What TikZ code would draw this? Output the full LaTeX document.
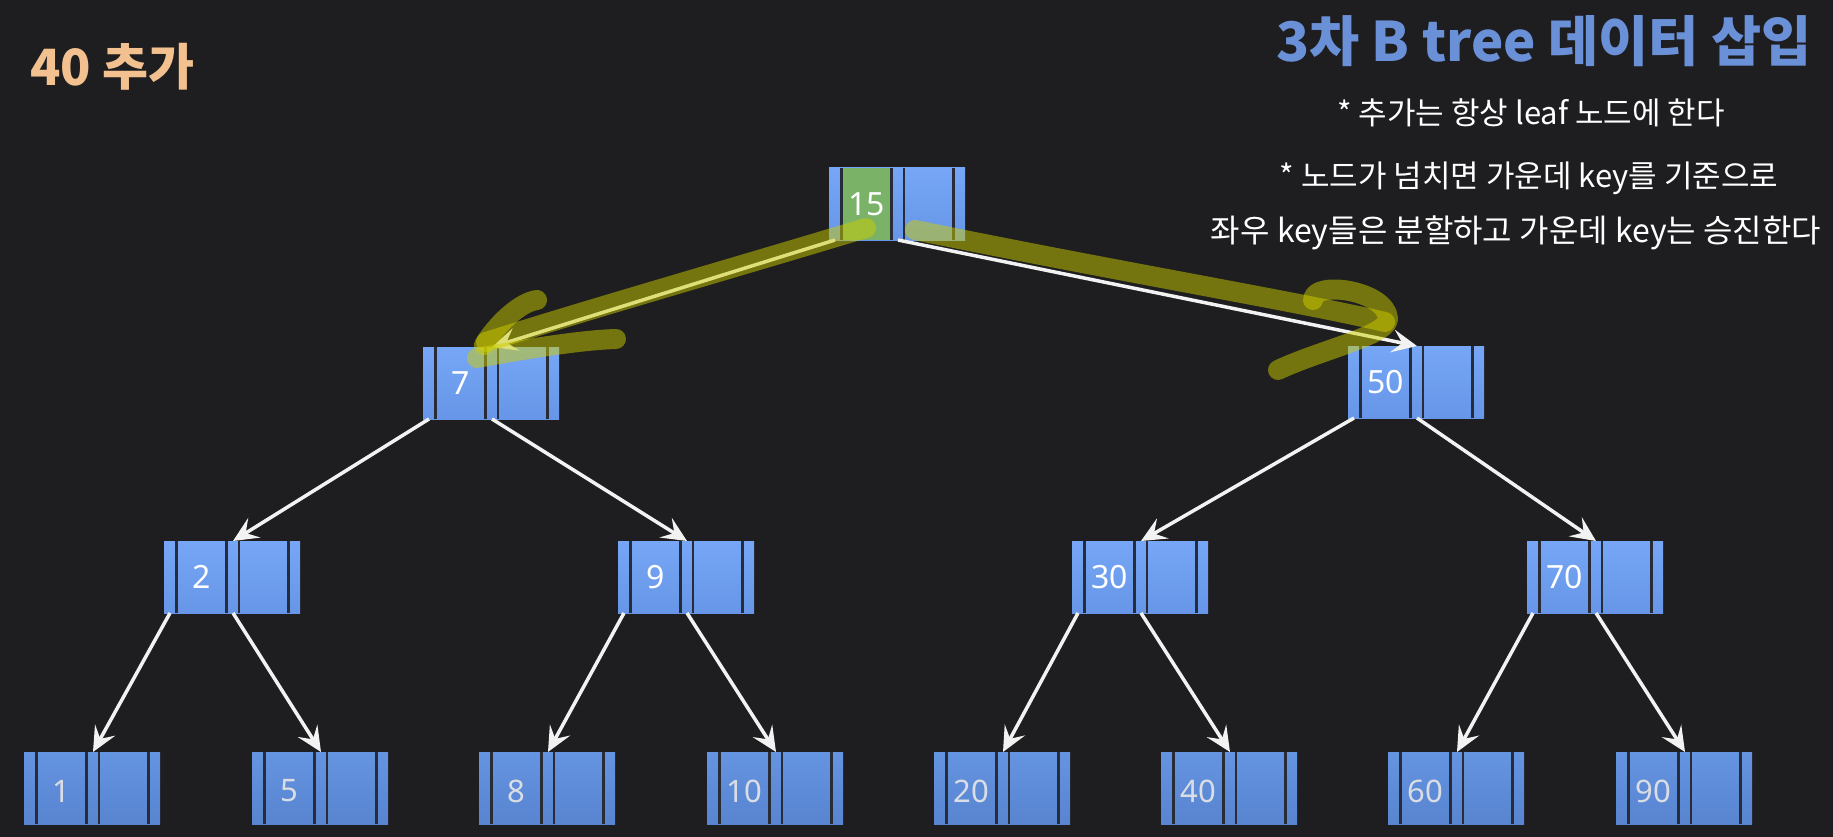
\documentclass[tikz,border=0pt]{standalone}
\usepackage{fontspec}
\setmainfont{Noto Sans}
\newfontfamily\kr{Noto Sans CJK KR}
\usetikzlibrary{arrows.meta,calc}
\definecolor{bg}{RGB}{30,29,31}
\definecolor{nodetop}{RGB}{118,166,245}
\definecolor{nodebot}{RGB}{103,150,232}
\definecolor{leaftop}{RGB}{101,148,224}
\definecolor{leafbot}{RGB}{88,132,208}
\definecolor{sepc}{RGB}{40,44,54}
\definecolor{greencell}{RGB}{122,178,104}
\definecolor{titleblue}{RGB}{106,144,216}
\definecolor{peach}{RGB}{243,193,143}
\definecolor{hl}{RGB}{205,205,0}
\definecolor{leaftext}{RGB}{218,222,228}
\newcommand{\bsep}{%
  \foreach \dx in {12.5,62.5,75,124.5}
    \draw[sepc,line width=2.2pt] ([xshift=\dx pt]path picture bounding box.south west) -- ([xshift=\dx pt]path picture bounding box.north west);}
\tikzset{
  x=1pt, y=-1pt,
  bbox/.style={minimum width=136pt, minimum height=72pt, inner sep=0pt, outer sep=0pt, draw=none},
  inner/.style={bbox, top color=nodetop, bottom color=nodebot, path picture={\bsep}},
  rootbox/.style={bbox, top color=nodetop, bottom color=nodebot,
    path picture={\fill[greencell] ([xshift=13.5pt]path picture bounding box.south west) rectangle ([xshift=61.5pt]path picture bounding box.north west);\bsep}},
  leaf/.style={bbox, top color=leaftop, bottom color=leafbot, path picture={\bsep}},
  keytxt/.style={text=white, font=\fontsize{32}{32}\selectfont, inner sep=0pt},
  leaftxt/.style={text=leaftext, font=\fontsize{31}{31}\selectfont, inner sep=0pt},
  arr/.style={draw=white!95!black, line width=3.5pt, -{Stealth[length=25pt,width=23pt,inset=10pt]}},
  hlstroke/.style={draw=hl, opacity=0.5, line width=20pt, line cap=round, line join=round},
  note/.style={text=white, font=\kr\fontsize{31}{31}\selectfont, inner sep=0pt},
}
\begin{document}
\begin{tikzpicture}
\fill[bg] (0,0) rectangle (1833,837);
\path[use as bounding box] (0,0) rectangle (1833,837);

% titles and notes
\node[anchor=base east, text=titleblue, font=\kr\bfseries\fontsize{54.5}{54.5}\selectfont, inner sep=0pt] (title) at (1812,62) {3차 B tree 데이터 삽입};
\node[anchor=base west, text=peach, font=\kr\bfseries\fontsize{50}{50}\selectfont, inner sep=0pt] (op) at (30,86) {40 추가};
\node[note] (n1) at (1531,113) {* 추가는 항상 leaf 노드에 한다};
\node[note] (n2) at (1529,178) {* 노드가 넘치면 가운데 key를 기준으로};
\node[note, font=\kr\fontsize{32}{32}\selectfont] (n3) at (1516,233) {좌우 key들은 분할하고 가운데 key는 승진한다};

% nodes
\node[rootbox] (r) at (897,204) {};
\node[inner] (a7) at (491,383) {};
\node[inner] (a50) at (1416,382) {};
\node[inner] (b2) at (232,577) {};
\node[inner] (b9) at (686,577) {};
\node[inner] (b30) at (1140,577) {};
\node[inner] (b70) at (1595,577) {};
\node[leaf] (c1) at (92,788) {};
\node[leaf] (c5) at (320,788) {};
\node[leaf] (c8) at (547,788) {};
\node[leaf] (c10) at (775,788) {};
\node[leaf] (c20) at (1002,788) {};
\node[leaf] (c40) at (1229,788) {};
\node[leaf] (c60) at (1456,788) {};
\node[leaf] (c90) at (1684,788) {};

% key texts
\node[keytxt] (t15) at ([xshift=-30.5pt]r.center) {15};
\node[keytxt] (t7) at ([xshift=-30.5pt]a7.center) {7};
\node[keytxt] (t50) at ([xshift=-30.5pt]a50.center) {50};
\node[keytxt] (t2) at ([xshift=-30.5pt]b2.center) {2};
\node[keytxt] (t9) at ([xshift=-30.5pt]b9.center) {9};
\node[keytxt] (t30) at ([xshift=-30.5pt]b30.center) {30};
\node[keytxt] (t70) at ([xshift=-30.5pt]b70.center) {70};
\foreach \n/\k in {c1/1,c5/5,c8/8,c10/10,c20/20,c40/40,c60/60,c90/90}
  \node[leaftxt] (t\n) at ([xshift=-30.5pt,yshift=-3pt]\n.center) {\k};

% connectors
\draw[arr] ([xshift=6pt]r.south west) -- ([xshift=1pt]a7.north);
\draw[arr] ([xshift=1pt]r.south) -- ([xshift=1pt]a50.north);
\foreach \p/\l/\rr in {a7/b2/b9, a50/b30/b70, b2/c1/c5, b9/c8/c10, b30/c20/c40, b70/c60/c90}{
  \draw[arr] ([xshift=6pt]\p.south west) -- ([xshift=1pt]\l.north);
  \draw[arr] ([xshift=1pt]\p.south) -- ([xshift=1pt]\rr.north);
}

% hand-drawn highlights
\draw[hlstroke] (866,228) .. controls (720,272) and (600,306) .. (486,342);
\draw[hlstroke] (537,300) .. controls (520,302) and (496,325) .. (484,345);
\draw[hlstroke] (477,358) .. controls (520,350) and (580,340) .. (616,339);
\draw[hlstroke] (915,230) .. controls (1120,272) and (1300,302) .. (1385,322);
\draw[hlstroke] (1313,300) .. controls (1313,280) and (1385,290) .. (1388,318) .. controls (1390,335) and (1320,350) .. (1278,370);
\end{tikzpicture}
\end{document}
